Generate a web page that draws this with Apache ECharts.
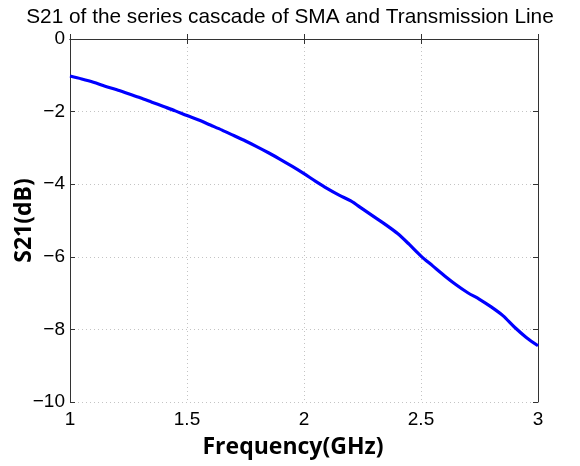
<!DOCTYPE html>
<html>
<head>
<meta charset="utf-8">
<script src="https://cdn.jsdelivr.net/npm/echarts@6/dist/echarts.min.js"></script>
<style>
  html, body { margin: 0; padding: 0; background: #fff; }
  #chart { width: 580px; height: 466px; }
</style>
</head>
<body>
<div id="chart"></div>
<script>
// Measured insertion loss of SMA connector + transmission line
const frequencyGHz = [1.00, 1.05, 1.10, 1.15, 1.20, 1.25, 1.30, 1.35, 1.40, 1.45,
                      1.50, 1.55, 1.60, 1.65, 1.70, 1.75, 1.80, 1.85, 1.90, 1.95,
                      2.00, 2.05, 2.10, 2.15, 2.20, 2.25, 2.30, 2.35, 2.40, 2.45,
                      2.50, 2.55, 2.60, 2.65, 2.70, 2.75, 2.80, 2.85, 2.90, 2.95, 3.00];
const s21dB = [-1.02, -1.10, -1.19, -1.30, -1.40, -1.51, -1.62, -1.74, -1.86, -1.98,
               -2.11, -2.23, -2.37, -2.51, -2.66, -2.81, -2.97, -3.14, -3.32, -3.51,
               -3.71, -3.92, -4.12, -4.30, -4.46, -4.68, -4.90, -5.12, -5.36, -5.66,
               -5.98, -6.25, -6.52, -6.77, -6.99, -7.17, -7.38, -7.62, -7.94, -8.22, -8.45];
const xTicks = [1, 1.5, 2, 2.5, 3];
const yTicks = [0, -2, -4, -6, -8, -10];

const chart = echarts.init(document.getElementById('chart'));
const fmtNum = v => String(v).replace('-', '\u2212');
const tickFont = { fontFamily: 'Liberation Sans, Arial, sans-serif', fontSize: 19, color: '#000' };
const labelFont = { fontFamily: 'Open Sans, sans-serif', fontWeight: 'bold', fontSize: 23, color: '#000' };
const gridStyle = { show: true, lineStyle: { color: '#c4c4c4', type: [1, 3], width: 1 } };
const frameLine = { show: true, lineStyle: { color: '#333', width: 1 } };
const innerTick = { show: true, inside: true, length: 5, lineStyle: { color: '#333' } };

chart.setOption({
  animation: false,
  title: {
    text: 'S21 of the series cascade of SMA and Transmission Line',
    left: 'center',
    top: 2,
    textStyle: { fontFamily: 'Liberation Sans, Arial, sans-serif', fontSize: 20.8, fontWeight: 'normal', color: '#000' }
  },
  grid: { left: 70, right: 42, top: 39, bottom: 64, containLabel: false, outerBoundsMode: 'none' },
  xAxis: [{
    type: 'value', min: xTicks[0], max: xTicks[xTicks.length - 1], interval: 0.5,
    name: 'Frequency(GHz)', nameLocation: 'middle', nameGap: 34,
    nameTextStyle: { ...labelFont, padding: [0, 22, 0, 0] },
    axisLine: frameLine,
    axisTick: innerTick,
    axisLabel: { ...tickFont, margin: 8, formatter: v => xTicks.includes(v) ? fmtNum(v) : '' },
    splitLine: gridStyle
  }, {
    type: 'value', position: 'top', min: xTicks[0], max: xTicks[xTicks.length - 1], interval: 0.5,
    axisLine: frameLine,
    axisTick: innerTick,
    axisLabel: { show: false }, splitLine: { show: false }
  }],
  yAxis: [{
    type: 'value', min: yTicks[yTicks.length - 1], max: yTicks[0], interval: 2,
    name: 'S21(dB)', nameLocation: 'middle', nameGap: 34, nameMoveOverlap: false,
    nameTextStyle: labelFont,
    axisLine: frameLine,
    axisTick: innerTick,
    axisLabel: { ...tickFont, margin: 5, formatter: v => yTicks.includes(v) ? fmtNum(v) : '' },
    splitLine: gridStyle
  }, {
    type: 'value', position: 'right', min: yTicks[yTicks.length - 1], max: yTicks[0], interval: 2,
    axisLine: frameLine,
    axisTick: innerTick,
    axisLabel: { show: false }, splitLine: { show: false }
  }],
  series: [{
    type: 'line',
    data: frequencyGHz.map((f, i) => [f, s21dB[i]]),
    showSymbol: false,
    smooth: 0.3,
    lineStyle: { color: '#0000ff', width: 3.2 },
    xAxisIndex: 0, yAxisIndex: 0
  }]
});
</script>
</body>
</html>
